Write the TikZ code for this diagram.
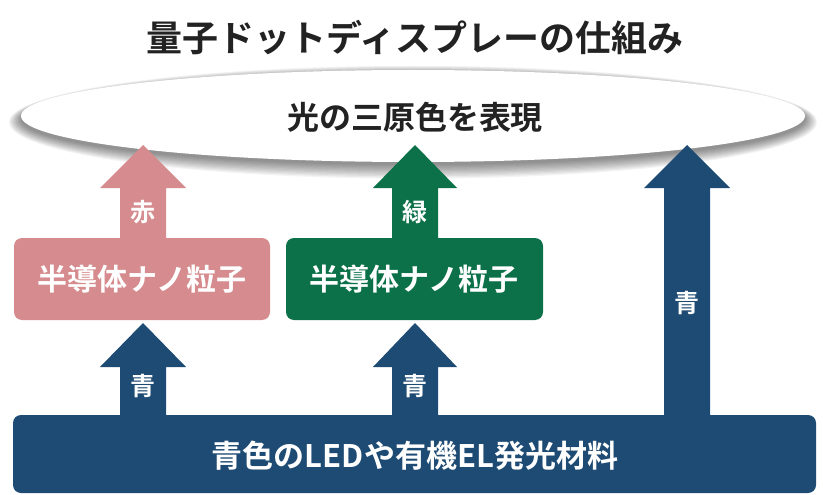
\documentclass[tikz,border=0pt]{standalone}
\usepackage{fontspec}
\setmainfont{Noto Sans CJK JP Bold}
\usetikzlibrary{shapes.geometric}
\definecolor{pinkc}{RGB}{214,140,142}
\definecolor{greenc}{RGB}{12,113,72}
\definecolor{navyc}{RGB}{30,75,115}
\definecolor{textc}{RGB}{34,34,34}
\newcommand{\blkarr}[7]{% color, cx, ybottom, yheadbase, ytip, half shaft, half head
  \fill[#1] (#2-#6,#3) -- (#2-#6,#4) -- (#2-#7,#4) -- (#2,#5) -- (#2+#7,#4) -- (#2+#6,#4) -- (#2+#6,#3) -- cycle;}
\begin{document}
\begin{tikzpicture}[x=1pt,y=-1pt,
  boxstyle/.style={rounded corners=8pt,inner sep=0pt},
  whitetxt/.style={text=white,inner sep=0pt},
  lbl/.style={text=white,font=\fontsize{25}{25}\selectfont,inner sep=0pt}]
\useasboundingbox (0,0) rectangle (823,495);
\fill[white] (0,0) rectangle (823,495);
% title
\node[text=textc,font=\fontsize{36}{36}\selectfont,inner sep=0pt] (title) at (415,38) {量子ドットディスプレーの仕組み};
% ellipse soft shadow
\foreach \i in {0,...,11}{
  \fill[black,opacity=0.045] (413,119.5+0.25*\i) ellipse ({392+1.1*\i} and {45.5+1.0*\i});
}
\node[draw=none,fill=white,ellipse,minimum width=784pt,minimum height=92pt,inner sep=0pt] (ell) at (413,116) {};
\node[text=textc,font=\fontsize{32}{32}\selectfont,inner sep=0pt] (elltxt) at (415,117) {光の三原色を表現};
% boxes
\fill[pinkc,boxstyle] (14,238) rectangle (270,320);
\coordinate (pinkbox) at (142,279);
\node[whitetxt,font=\fontsize{30}{30}\selectfont] (pinktxt) at (142,279) {半導体ナノ粒子};
\fill[greenc,boxstyle] (286,238) rectangle (543,320);
\coordinate (greenbox) at (414,279);
\node[whitetxt,font=\fontsize{30}{30}\selectfont] (greentxt) at (414,279) {半導体ナノ粒子};
% bottom bar
\fill[navyc,boxstyle] (13,415) rectangle (816,493);
\node[whitetxt,font=\fontsize{31}{31}\selectfont] (bartxt) at (415,456) {青色のLEDや有機EL発光材料};
% arrows
\blkarr{pinkc}{143}{240}{188}{145}{23}{43}
\blkarr{greenc}{415}{240}{188}{145}{23}{42}
\blkarr{navyc}{143}{417}{367}{323}{23}{43}
\blkarr{navyc}{415}{417}{367}{323}{23}{42}
\blkarr{navyc}{687}{417}{188}{145}{23}{43}
% arrow labels
\node[lbl] (lred) at (143,212) {赤};
\node[lbl] (lgreen) at (415,212) {緑};
\node[lbl] (lb1) at (143,386) {青};
\node[lbl] (lb2) at (415,386) {青};
\node[lbl] (lb3) at (687,303) {青};
\end{tikzpicture}
\end{document}
